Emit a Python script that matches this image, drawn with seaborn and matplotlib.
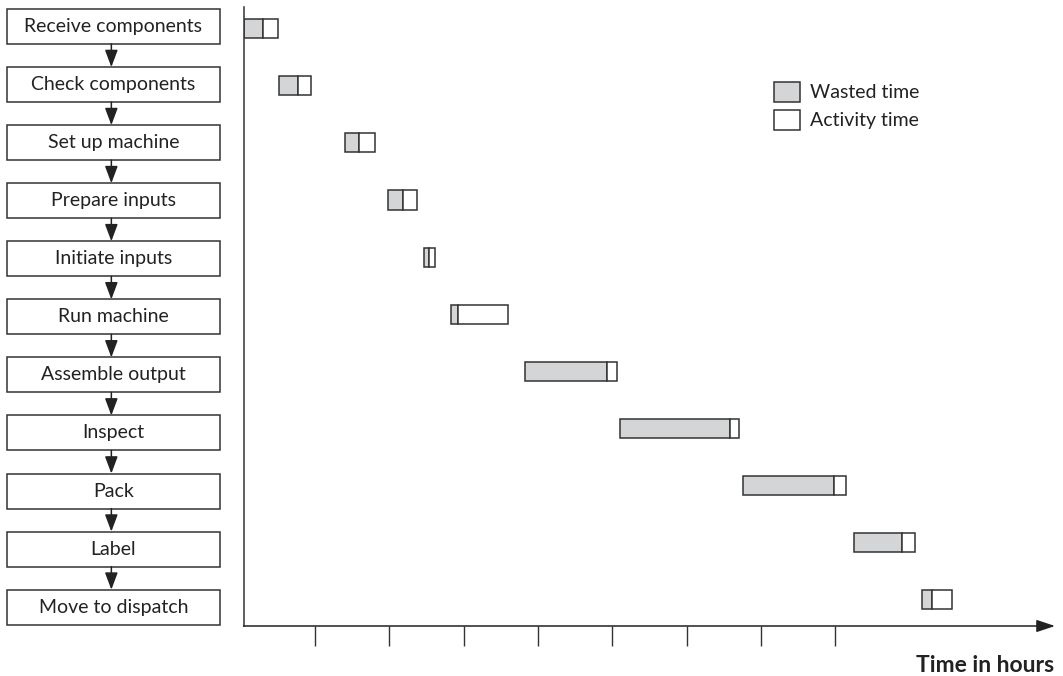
import matplotlib
matplotlib.use("Agg")
import matplotlib.pyplot as plt
from matplotlib.patches import Rectangle, Patch
import seaborn as sns

# ---------------- data ----------------
tasks = ["Receive components", "Check components", "Set up machine", "Prepare inputs",
         "Initiate inputs", "Run machine", "Assemble output", "Inspect", "Pack",
         "Label", "Move to dispatch"]
start_h = [0.04, 0.52, 1.40, 1.98, 2.47, 2.83, 3.82, 5.11, 6.76, 8.26, 9.17]
wasted_h = [0.26, 0.25, 0.19, 0.20, 0.07, 0.10, 1.11, 1.47, 1.23, 0.64, 0.14]
activity_h = [0.20, 0.17, 0.22, 0.19, 0.08, 0.67, 0.13, 0.13, 0.16, 0.18, 0.27]
hour_ticks = [1, 2, 3, 4, 5, 6, 7, 8]
legend_labels = ["Wasted time", "Activity time"]
xlabel = "Time in hours"

# ---------------- style ----------------
sns.set_theme(style="white")
plt.rcParams["font.family"] = ["Lato", "DejaVu Sans"]

GRAY = "#d4d5d7"
EDGE = "#333333"
TXT = "#222222"
LW = 1.1

W, H = 1063, 676
fig = plt.figure(figsize=(W / 100, H / 100), dpi=100)

# --- Gantt axes ---
x0, x1, y_axis, y_top = 243.5, 1055, 626, 7
origin_px = 240.7
px_per_h = 74.3
row0, row_sp = 28.7, 57.1
ax = fig.add_axes([x0 / W, 1 - y_axis / H, (x1 - x0) / W, (y_axis - y_top) / H])

sns.barplot(x=wasted_h, y=tasks, orient="h", color=GRAY, saturation=1, width=0.333,
            edgecolor=EDGE, linewidth=LW, errorbar=None, ax=ax)
n = len(tasks)
for p, s in zip(ax.patches[:n], start_h):
    p.set_x(s)
sns.barplot(x=activity_h, y=tasks, orient="h", color="white", saturation=1, width=0.333,
            edgecolor=EDGE, linewidth=LW, errorbar=None, ax=ax)
for p, s, w in zip(ax.patches[n:], start_h, wasted_h):
    p.set_x(s + w)

ax.set_xlim((x0 - origin_px) / px_per_h, (x1 - origin_px) / px_per_h)
ax.set_ylim((y_axis - row0) / row_sp, (y_top - row0) / row_sp)
ax.set_yticks([])
ax.set_ylabel("")
ax.set_xlabel("")
ax.set_xticks(hour_ticks)
ax.set_xticklabels([""] * len(hour_ticks))
ax.tick_params(axis="x", direction="out", length=14.5, width=1.0, color=EDGE, bottom=True)
for s in ["top", "right", "bottom"]:
    ax.spines[s].set_visible(False)
ax.spines["left"].set_color(EDGE)
ax.spines["left"].set_linewidth(LW)
ax.set_facecolor("none")
ax.annotate("", xy=(1.0, 0), xytext=(0, 0), xycoords="axes fraction",
            arrowprops=dict(arrowstyle="-|>,head_length=0.75,head_width=0.25",
                            mutation_scale=15, color=TXT, lw=LW,
                            shrinkA=0, shrinkB=0), annotation_clip=False)

fig.text(1054 / W, 1 - 665 / H, xlabel, ha="right", va="center",
         fontsize=16.5, fontweight="bold", color=TXT)

# legend
handles = [Patch(facecolor=GRAY, edgecolor=EDGE, linewidth=LW),
           Patch(facecolor="white", edgecolor=EDGE, linewidth=LW)]
fs = 14
fpx = fs * 100 / 72
fig.legend(handles, legend_labels, loc="upper left",
           bbox_to_anchor=(774.3 / W, 1 - 81.7 / H), frameon=False,
           borderpad=0, borderaxespad=0, fontsize=fs,
           handlelength=26 / fpx, handleheight=24 / fpx,
           labelspacing=7.7 / fpx, handletextpad=9.5 / fpx,
           labelcolor=TXT)

# --- flowchart (pixel overlay) ---
fa = fig.add_axes([0, 0, 1, 1])
fa.set_xlim(0, W)
fa.set_ylim(H, 0)
fa.axis("off")
bx0, bx1 = 6.7, 220
btop0, bh, bsp = 9, 35, 58.07
cx = (bx0 + bx1) / 2
for i, t in enumerate(tasks):
    top = btop0 + i * bsp
    fa.add_patch(Rectangle((bx0, top), bx1 - bx0, bh, facecolor="white",
                           edgecolor=EDGE, linewidth=LW))
    fa.text(cx, top + bh / 2, t, ha="center", va="center", fontsize=14, color=TXT)
    if i < len(tasks) - 1:
        fa.annotate("", xy=(cx - 2, top + bsp), xytext=(cx - 2, top + bh),
                    arrowprops=dict(arrowstyle="-|>,head_length=0.8,head_width=0.3",
                                    mutation_scale=13, color=TXT, lw=LW,
                                    shrinkA=0, shrinkB=0))

fig.savefig("out.png", dpi=100)
